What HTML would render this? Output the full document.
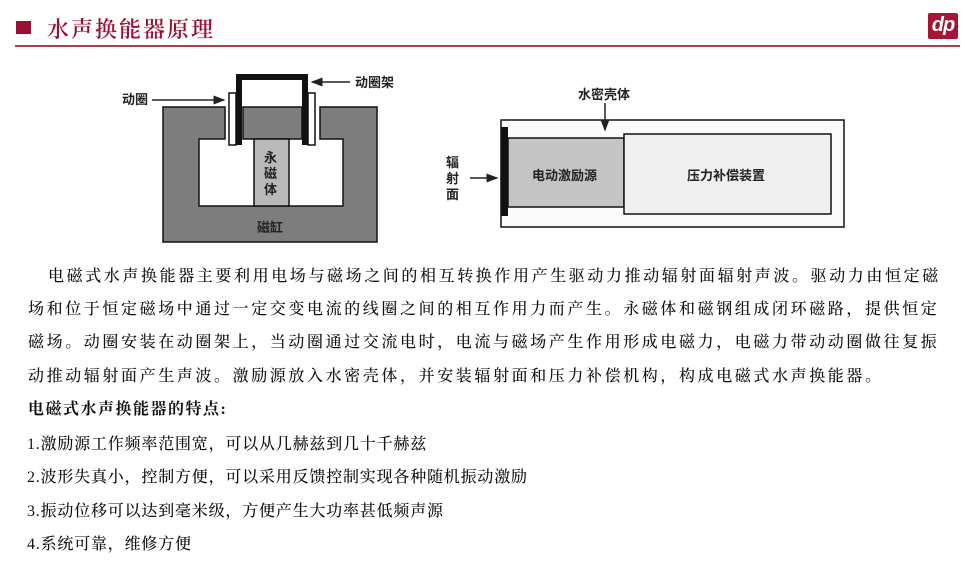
<!DOCTYPE html>
<html><head><meta charset="utf-8"><style>
body{margin:0;width:965px;height:567px;background:#fff;position:relative;overflow:hidden;font-family:"Liberation Serif","Noto Serif CJK SC",serif;color:#111}
.a{position:absolute;white-space:nowrap;line-height:1}
.p{font-size:16px;letter-spacing:2.6px;font-weight:500}
.l{font-size:16px;letter-spacing:0.8px;font-weight:500}
.d{font-family:"Liberation Sans","Noto Sans CJK SC",sans-serif;font-size:13px;font-weight:bold;color:#222}
</style></head><body>
<div class="a" style="left:16px;top:21px;width:15px;height:13px;background:#9b0f35"></div>
<div class="a" style="left:47px;top:18px;font-size:22px;color:#9b0f35;letter-spacing:2px;font-weight:600;font-family:'Noto Serif CJK SC',serif">水声换能器原理</div>
<div class="a" style="left:15px;top:45px;width:945px;height:1.5px;background:#b04050"></div>
<div class="a" style="left:928px;top:13px;width:30px;height:26px;background:#a51535;border-radius:2px;color:#fff;font:italic bold 20px 'Liberation Sans',sans-serif;text-align:center;line-height:24px;letter-spacing:-1px">dp</div>

<svg class="a" style="left:0;top:0" width="965" height="260">
<defs><marker id="ar" markerWidth="8" markerHeight="8" refX="7" refY="4" orient="auto"><path d="M0,1 L8,4 L0,7 Z" fill="#222"/></marker></defs>
<path d="M163,107 H225 V139 H199 V206 H343 V139 H320 V107 H377 V242 H163 Z" fill="#7d7d7d" stroke="#111" stroke-width="1.5"/>
<rect x="243" y="107" width="59" height="32" fill="#7d7d7d" stroke="#111" stroke-width="1.5"/>
<rect x="254" y="139" width="35" height="67" fill="#b9b9b9" stroke="#111" stroke-width="1.5"/>
<rect x="229" y="93" width="7" height="52" fill="#fff" stroke="#111" stroke-width="1.5"/>
<rect x="308" y="93" width="7" height="52" fill="#fff" stroke="#111" stroke-width="1.5"/>
<path d="M239,145 V77 H305 V145" fill="none" stroke="#111" stroke-width="6"/>
<line x1="152" y1="100" x2="224" y2="100" stroke="#222" stroke-width="1.5" marker-end="url(#ar)"/>
<line x1="350" y1="82" x2="312" y2="82" stroke="#222" stroke-width="1.5" marker-end="url(#ar)"/>
<rect x="501" y="120" width="343" height="107" fill="#fafafa" stroke="#111" stroke-width="1.5"/>
<rect x="508" y="138" width="116" height="69" fill="#c4c4c4" stroke="#111" stroke-width="1.5"/>
<rect x="624" y="134" width="207" height="80" fill="#f0f0f0" stroke="#111" stroke-width="1.5"/>
<rect x="501" y="127" width="7" height="89" fill="#111"/>
<line x1="605" y1="103" x2="605" y2="130" stroke="#222" stroke-width="1.5" marker-end="url(#ar)"/>
<line x1="470" y1="178" x2="497" y2="178" stroke="#222" stroke-width="1.5" marker-end="url(#ar)"/>
</svg>
<div class="a d" style="left:122px;top:93px">动圈</div>
<div class="a d" style="left:355px;top:76px">动圈架</div>
<div class="a d" style="left:264px;top:150px;width:15px;line-height:16px;white-space:normal">永磁体</div>
<div class="a d" style="left:257px;top:221px">磁缸</div>
<div class="a d" style="left:578px;top:88px">水密壳体</div>
<div class="a d" style="left:446px;top:155px;width:15px;line-height:16px;white-space:normal">辐射面</div>
<div class="a d" style="left:532px;top:169px">电动激励源</div>
<div class="a d" style="left:687px;top:169px">压力补偿装置</div>

<div class="a p" style="left:48px;top:269px">电磁式水声换能器主要利用电场与磁场之间的相互转换作用产生驱动力推动辐射面辐射声波。驱动力由恒定磁</div>
<div class="a p" style="left:28px;top:302px">场和位于恒定磁场中通过一定交变电流的线圈之间的相互作用力而产生。永磁体和磁钢组成闭环磁路，提供恒定</div>
<div class="a p" style="left:28px;top:335px">磁场。动圈安装在动圈架上，当动圈通过交流电时，电流与磁场产生作用形成电磁力，电磁力带动动圈做往复振</div>
<div class="a p" style="left:28px;top:369px">动推动辐射面产生声波。激励源放入水密壳体，并安装辐射面和压力补偿机构，构成电磁式水声换能器。</div>
<div class="a p" style="left:28px;top:402px;font-weight:bold;letter-spacing:1.5px">电磁式水声换能器的特点:</div>
<div class="a l" style="left:27px;top:437px">1.激励源工作频率范围宽，可以从几赫兹到几十千赫兹</div>
<div class="a l" style="left:27px;top:470px">2.波形失真小，控制方便，可以采用反馈控制实现各种随机振动激励</div>
<div class="a l" style="left:27px;top:504px">3.振动位移可以达到毫米级，方便产生大功率甚低频声源</div>
<div class="a l" style="left:27px;top:537px">4.系统可靠，维修方便</div>
</body></html>
